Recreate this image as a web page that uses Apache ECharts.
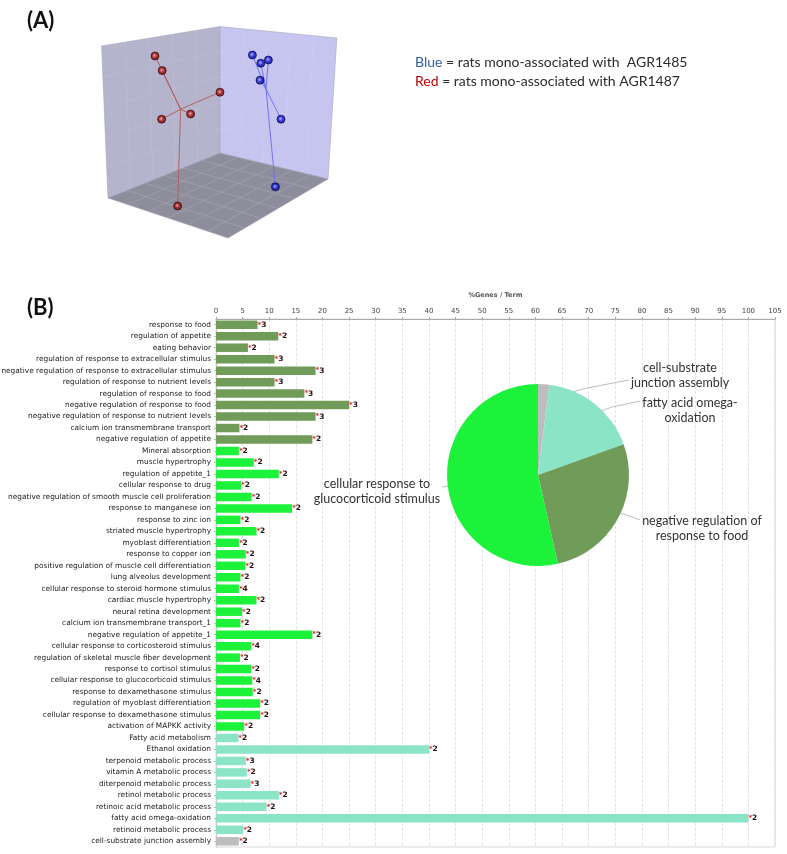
<!DOCTYPE html>
<html>
<head>
<meta charset="utf-8">
<title>ECharts</title>
<script src="https://cdn.jsdelivr.net/npm/echarts@6/dist/echarts.min.js"></script>
<style>html,body{margin:0;padding:0;background:#fff;}</style>
</head>
<body>
<div id="main" style="width:787px;height:854px;"></div>
<script>
// (A) projected sample scores and the hub each tree hangs from
var redPoints = [[-3.25, 3.7], [-2.89, 2.97], [0, 1.89], [-2.92, 0.54], [-1.47, 0.8], [-2.12, -3.8]];
var redHub = [-1.97, 1.04];
var bluePoints = [[1.62, 3.75], [2.04, 3.34], [2.42, 3.5], [2.0, 2.49], [3.05, 0.54], [2.77, -2.84]];
var blueHub = [2.3, 2.05];

// (B) enrichment terms
var terms = [
    'response to food', 'regulation of appetite', 'eating behavior',
    'regulation of response to extracellular stimulus',
    'negative regulation of response to extracellular stimulus',
    'regulation of response to nutrient levels', 'regulation of response to food',
    'negative regulation of response to food',
    'negative regulation of response to nutrient levels',
    'calcium ion transmembrane transport', 'negative regulation of appetite',
    'Mineral absorption', 'muscle hypertrophy', 'regulation of appetite_1',
    'cellular response to drug',
    'negative regulation of smooth muscle cell proliferation',
    'response to manganese ion', 'response to zinc ion', 'striated muscle hypertrophy',
    'myoblast differentiation', 'response to copper ion',
    'positive regulation of muscle cell differentiation', 'lung alveolus development',
    'cellular response to steroid hormone stimulus', 'cardiac muscle hypertrophy',
    'neural retina development', 'calcium ion transmembrane transport_1',
    'negative regulation of appetite_1', 'cellular response to corticosteroid stimulus',
    'regulation of skeletal muscle fiber development', 'response to cortisol stimulus',
    'cellular response to glucocorticoid stimulus', 'response to dexamethasone stimulus',
    'regulation of myoblast differentiation',
    'cellular response to dexamethasone stimulus', 'activation of MAPKK activity',
    'Fatty acid metabolism', 'Ethanol oxidation', 'terpenoid metabolic process',
    'vitamin A metabolic process', 'diterpenoid metabolic process',
    'retinol metabolic process', 'retinoic acid metabolic process',
    'fatty acid omega-oxidation', 'retinoid metabolic process',
    'cell-substrate junction assembly'
];
var pctGenes = [
    7.8, 11.7, 6.0, 11.0, 18.7, 11.0, 16.6, 25.0, 18.7, 4.4, 18.1,
    4.3, 7.1, 11.8, 4.7, 6.7, 14.3, 4.6, 7.6, 4.3, 5.6, 5.5, 4.6, 4.3, 7.6,
    4.9, 4.6, 18.1, 6.6, 4.5, 6.6, 6.8, 6.9, 8.3, 8.3, 5.3,
    4.2, 40.0, 5.6, 5.8, 6.5, 11.8, 9.5, 100.0, 5.1,
    4.3
];
var geneCounts = [
    3, 2, 2, 3, 3, 3, 3, 3, 3, 2, 2,
    2, 2, 2, 2, 2, 2, 2, 2, 2, 2, 2, 2, 4, 2,
    2, 2, 2, 4, 2, 2, 4, 2, 2, 2, 2,
    2, 2, 3, 2, 3, 2, 2, 2, 2,
    2
];
var termGroup = [
    0, 0, 0, 0, 0, 0, 0, 0, 0, 0, 0,
    1, 1, 1, 1, 1, 1, 1, 1, 1, 1, 1, 1, 1, 1,
    1, 1, 1, 1, 1, 1, 1, 1, 1, 1, 1,
    2, 2, 2, 2, 2, 2, 2, 2, 2,
    3
];

// pie of the groups
var pieNames = ['cell-substrate\njunction assembly', 'fatty acid omega-\noxidation',
    'negative regulation of\nresponse to food', 'cellular response to\nglucocorticoid stimulus'];
var pieGroup = [3, 2, 0, 1];
var pieValues = [2, 17.5, 27, 53.5];

var groupColors = ['#709b58', '#1cf23a', '#8ce4c6', '#bdbdbd'];

// layout bits
var pieCenter = [538, 475];
var pieRadius = 91;
var labelSpots = [
    { x: 680, y: 375, ey: 380 },
    { x: 690, y: 410, ey: 401 },
    { x: 702, y: 528, ey: 520 },
    { x: 377, y: 491, ey: 487 }
];
var box = {
    lt: [-5.92, 4.2], bt: [0, 5.17], bb: [0, -1.15], lb: [-5.6, -3.4],
    rt: [5.84, 4.6], rb: [5.4, -2.45], fb: [0.4, -5.4]
};
var faces = [
    { pts: [box.bb, box.lb, box.lt, box.bt], fill: '#b4b4cc', grid: '#bcbcd3', n: 5 },
    { pts: [box.bb, box.rb, box.rt, box.bt], fill: '#c5c5ef', grid: '#cbcbf1', n: 5 },
    { pts: [box.bb, box.rb, box.fb, box.lb], fill: '#8d8d9c', grid: '#a3a3b2', n: 6 }
];

function lerp(a, b, t) {
    return [a[0] + (b[0] - a[0]) * t, a[1] + (b[1] - a[1]) * t];
}

function renderFace(params, api) {
    var f = faces[params.dataIndex];
    var p = f.pts.map(function (q) { return api.coord(q); });
    var kids = [{
        type: 'polygon',
        shape: { points: p },
        style: { fill: f.fill, stroke: '#a6a6c0', lineWidth: 0.6 }
    }];
    for (var k = 1; k < f.n; k++) {
        var t = k / f.n;
        var a1 = lerp(p[0], p[1], t), a2 = lerp(p[3], p[2], t);
        var b1 = lerp(p[0], p[3], t), b2 = lerp(p[1], p[2], t);
        kids.push({ type: 'line', shape: { x1: a1[0], y1: a1[1], x2: a2[0], y2: a2[1] },
            style: { stroke: f.grid, lineWidth: 0.7 } });
        kids.push({ type: 'line', shape: { x1: b1[0], y1: b1[1], x2: b2[0], y2: b2[1] },
            style: { stroke: f.grid, lineWidth: 0.7 } });
    }
    return { type: 'group', children: kids };
}

function ball(light, mid, dark) {
    return new echarts.graphic.RadialGradient(0.45, 0.45, 0.6, [
        { offset: 0, color: light }, { offset: 0.4, color: mid }, { offset: 1, color: dark }
    ]);
}

var chart = echarts.init(document.getElementById('main'));

var option = {
    animation: false,
    textStyle: { fontFamily: 'Lato' },
    graphic: [
        { type: 'text', left: 27, top: 10, style: { text: '(A)', font: 'bold 22px Lato', fill: '#111' } },
        { type: 'text', left: 27, top: 297, style: { text: '(B)', font: 'bold 22px Lato', fill: '#111' } },
        {
            type: 'text', left: 415, top: 55,
            style: {
                text: '{b|Blue} = rats mono-associated with  AGR1485',
                font: '14px Lato', fill: '#2b2b2b',
                rich: { b: { fill: '#2f5f9f', fontSize: 14, fontFamily: 'Lato' } }
            }
        },
        {
            type: 'text', left: 415, top: 74,
            style: {
                text: '{r|Red} = rats mono-associated with AGR1487',
                font: '14px Lato', fill: '#2b2b2b',
                rich: { r: { fill: '#c00000', fontSize: 14, fontFamily: 'Lato' } }
            }
        }
    ],
    grid: [
        { left: 100, top: 20, width: 240, height: 220, outerBoundsMode: 'none' },
        { left: 216, top: 319, right: 12, height: 528, outerBoundsMode: 'none',
          show: true, borderColor: '#d8d8d8', borderWidth: 1 }
    ],
    xAxis: [
        { gridIndex: 0, type: 'value', min: -6, max: 6, show: false },
        {
            gridIndex: 1, type: 'value', position: 'top', min: 0, max: 105, interval: 5,
            name: '%Genes / Term', nameLocation: 'middle', nameGap: 20,
            nameTextStyle: { fontSize: 6.5, fontWeight: 'bold', color: '#555', fontFamily: 'DejaVu Sans' },
            axisLine: { show: true, lineStyle: { color: '#aaa' } },
            axisTick: { show: true, length: 2, lineStyle: { color: '#aaa' } },
            axisLabel: { fontSize: 7, color: '#444', margin: 4, fontFamily: 'DejaVu Sans' },
            splitLine: { show: true, lineStyle: { color: '#dcdcdc', type: 'dashed', width: 0.8 } }
        }
    ],
    yAxis: [
        { gridIndex: 0, type: 'value', min: -5.5, max: 5.5, show: false },
        {
            gridIndex: 1, type: 'category', data: terms, inverse: true,
            axisLine: { show: true, lineStyle: { color: '#c8c8c8' } },
            axisTick: { show: true, length: 2, alignWithLabel: true, lineStyle: { color: '#bbb' } },
            axisLabel: { fontSize: 7.4, color: '#222', margin: 5, fontFamily: 'DejaVu Sans', interval: 0 }
        }
    ],
    series: [
        {
            type: 'custom', xAxisIndex: 0, yAxisIndex: 0,
            data: [[0, 0], [1, 0], [2, 0]],
            renderItem: renderFace, silent: true, z: 1
        },
        {
            type: 'lines', coordinateSystem: 'cartesian2d', xAxisIndex: 0, yAxisIndex: 0,
            data: redPoints.map(function (p) { return { coords: [redHub, p] }; }),
            lineStyle: { color: '#b35a5a', width: 1, opacity: 0.9 }, silent: true, z: 2
        },
        {
            type: 'lines', coordinateSystem: 'cartesian2d', xAxisIndex: 0, yAxisIndex: 0,
            data: bluePoints.map(function (p) { return { coords: [blueHub, p] }; }),
            lineStyle: { color: '#6a6af2', width: 1, opacity: 0.9 }, silent: true, z: 2
        },
        {
            type: 'scatter', xAxisIndex: 0, yAxisIndex: 0, data: redPoints, symbolSize: 8, z: 3,
            itemStyle: { color: ball('#f2b8b8', '#b01515', '#4a0000'), borderColor: '#2a0000', borderWidth: 0.8 }
        },
        {
            type: 'scatter', xAxisIndex: 0, yAxisIndex: 0, data: bluePoints, symbolSize: 8, z: 3,
            itemStyle: { color: ball('#c0c0ff', '#1a1ae6', '#000066'), borderColor: '#000033', borderWidth: 0.8 }
        },
        {
            type: 'bar', xAxisIndex: 1, yAxisIndex: 1, barCategoryGap: '26%',
            data: pctGenes.map(function (v, i) {
                return { value: v, itemStyle: { color: groupColors[termGroup[i]] } };
            }),
            label: {
                show: true, position: 'right', distance: 0,
                formatter: function (p) { return '{m|*}{n|' + geneCounts[p.dataIndex] + '}'; },
                rich: {
                    m: { color: '#e3222b', fontSize: 7, fontWeight: 'bold', fontFamily: 'DejaVu Sans' },
                    n: { color: '#2a1010', fontSize: 7.5, fontWeight: 'bold', fontFamily: 'DejaVu Sans' }
                }
            },
            emphasis: { disabled: true }
        },
        {
            type: 'pie', center: pieCenter, radius: pieRadius, startAngle: 90, clockwise: true,
            z: 4,
            data: pieValues.map(function (v, i) {
                return { name: pieNames[i], value: v, itemStyle: { color: groupColors[pieGroup[i]] } };
            }),
            label: {
                show: true, formatter: '{b}', fontSize: 12.5, lineHeight: 15,
                color: '#333', fontFamily: 'Lato'
            },
            labelLine: { show: true, length: 10, length2: 10, lineStyle: { color: '#bdbdbd', width: 1 } },
            labelLayout: function (params) {
                var s = labelSpots[params.dataIndex];
                var w = params.labelRect.width;
                var p0 = params.labelLinePoints[0];
                var st = [pieCenter[0] + (p0[0] - pieCenter[0]) * 0.82,
                          pieCenter[1] + (p0[1] - pieCenter[1]) * 0.82];
                var left = s.x < pieCenter[0];
                var ex = left ? s.x + w / 2 + 2 : s.x - w / 2 - 2;
                return {
                    x: s.x, y: s.y, align: 'center', verticalAlign: 'middle',
                    labelLinePoints: [st, [(st[0] + ex) / 2, (st[1] + s.ey) / 2 + (left ? 0 : -2)], [ex, s.ey]]
                };
            },
            emphasis: { disabled: true }
        }
    ]
};
chart.setOption(option);
</script>
</body>
</html>
